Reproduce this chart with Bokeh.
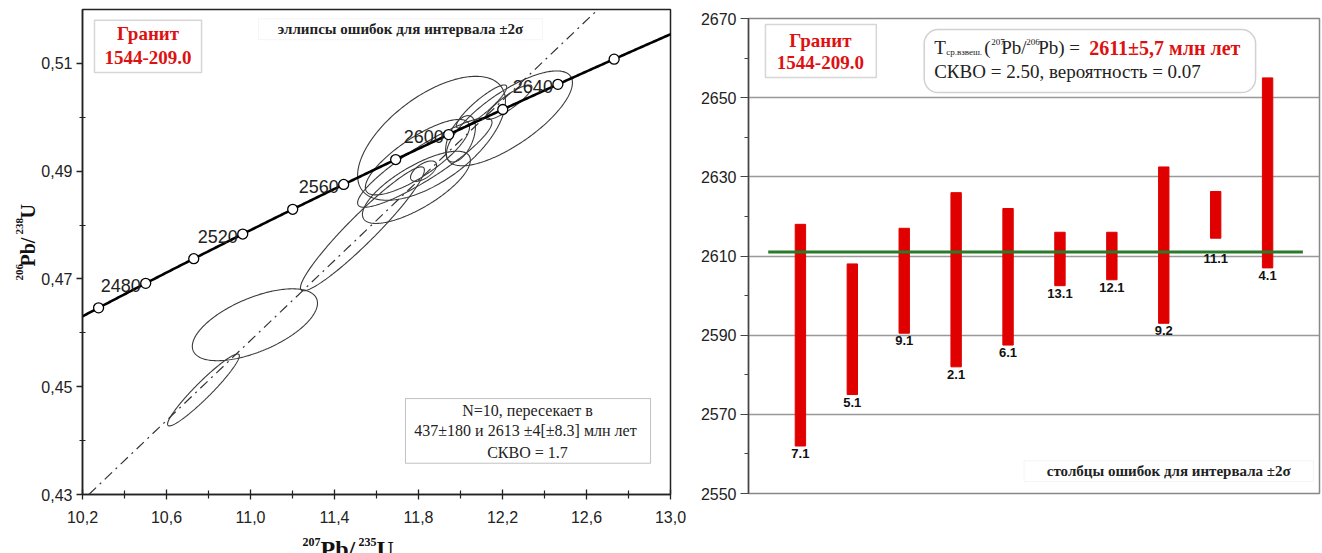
import numpy as np
from bokeh.plotting import figure
from bokeh.layouts import row, column
from bokeh.models import (FixedTicker, CustomJSTickFormatter, Label, BoxAnnotation, Slope)
from bokeh.core.properties import value
from bokeh.embed import file_html
from bokeh.resources import INLINE

# ---------------------------------------------------------------- data
# U decay constants, 1/yr
L238 = 1.55125e-10
L235 = 9.8485e-10

CONCORDIA_AGES = [2460, 2480, 2500, 2520, 2540, 2560, 2580, 2600, 2620, 2640, 2660]
AGE_LABELS = [2480, 2520, 2560, 2600, 2640]
LOWER_INTERCEPT = 437
UPPER_INTERCEPT = 2613

# zircon analyses: 207Pb/235U, 206Pb/238U with 2-sigma errors and error correlation
PB7_U5 = [10.776, 11.021, 11.533, 11.862, 12.233, 12.230, 12.100, 12.000, 11.795, 11.790, 11.824, 11.830]
PB7_U5_ERR = [0.171, 0.298, 0.295, 0.352, 0.300, 0.110, 0.120, 0.071, 0.248, 0.257, 0.062, 0.320]
PB6_U8 = [0.4494, 0.4615, 0.4793, 0.4961, 0.4998, 0.5028, 0.5020, 0.4960, 0.4926, 0.4870, 0.4900, 0.4916]
PB6_U8_ERR = [0.00667, 0.00667, 0.0115, 0.0115, 0.0088, 0.0032, 0.0040, 0.0043, 0.0070, 0.0067, 0.0019, 0.0083]
RHO = [0.95, 0.60, 0.95, 0.60, 0.75, 0.88, 0.90, 0.50, 0.80, 0.75, 0.60, 0.90]

X_TICKS = [10.2, 10.6, 11.0, 11.4, 11.8, 12.2, 12.6, 13.0]
X_MINOR = [10.4, 10.8, 11.2, 11.6, 12.0, 12.4, 12.8]
Y_TICKS = [0.43, 0.45, 0.47, 0.49, 0.51]
Y_MINOR = [0.44, 0.46, 0.48, 0.50]

# 207Pb/206Pb ages per spot, ±2σ interval (Ma)
SPOTS = ["7.1", "5.1", "9.1", "2.1", "6.1", "13.1", "12.1", "9.2", "11.1", "4.1"]
AGE_HIGH = [2618.0, 2608.0, 2617.0, 2626.0, 2622.0, 2616.0, 2616.0, 2632.5, 2626.3, 2655.0]
AGE_LOW = [2562.0, 2575.0, 2590.5, 2582.0, 2587.5, 2602.5, 2604.0, 2593.0, 2614.5, 2607.0]
MEAN_AGE = 2611

AGE_TICKS = [2550, 2570, 2590, 2610, 2630, 2650, 2670]
AGE_MINOR = [2560, 2580, 2600, 2620, 2640, 2660]


def r68(t_ma):
    return np.exp(L238 * np.asarray(t_ma, dtype=float) * 1e6) - 1.0


def r75(t_ma):
    return np.exp(L235 * np.asarray(t_ma, dtype=float) * 1e6) - 1.0


SERIF = "Liberation Serif"
SANS = "Liberation Sans"
RED = "#dd1111"
INK = "#222222"
PAGE_H = 553
YLAB_W = 36


def text_strip(width, height, x_range, y_range):
    """Blank canvas for the axis titles; ranges are given in page pixels
    (x from the left edge, y up from the bottom edge) over the strip's frame."""
    f = figure(width=width, height=height, x_range=x_range, y_range=y_range,
               x_axis_location=None, y_axis_location=None,
               output_backend="svg", toolbar_location=None,
               min_border=0, min_border_left=0, min_border_right=0,
               min_border_top=0, min_border_bottom=0)
    f.grid.visible = False
    f.outline_line_color = None
    f.title.visible = False
    return f


def place_runs(fig, runs, x0, y0, angle=0.0):
    """Text runs: (offset along baseline, offset across baseline, text, size)."""
    c, s = np.cos(angle), np.sin(angle)
    for along, up, txt, size in runs:
        fig.text(x=[x0 + along * c - up * s], y=[y0 + along * s + up * c], text=[txt],
                 angle=angle, text_align="left", text_baseline="alphabetic",
                 text_font=value(SERIF), text_font_style="bold",
                 text_font_size=size, text_color="#111111")


# ---------------------------------------------------------------- concordia diagram
left = figure(width=690 - YLAB_W, height=533, x_range=(10.2, 13.0), y_range=(0.43, 0.52),
              output_backend="svg", toolbar_location=None,
              min_border_left=82 - YLAB_W, min_border_right=20, min_border_top=9,
              min_border_bottom=39)
left.grid.visible = False
left.outline_line_color = INK
left.outline_line_width = 1.5

left.xaxis.ticker = FixedTicker(ticks=X_TICKS, minor_ticks=X_MINOR)
left.yaxis.ticker = FixedTicker(ticks=Y_TICKS, minor_ticks=Y_MINOR)
left.xaxis.formatter = CustomJSTickFormatter(code="return tick.toFixed(1).replace('.', ',')")
left.yaxis.formatter = CustomJSTickFormatter(code="return tick.toFixed(2).replace('.', ',')")
for ax in (left.xaxis[0], left.yaxis[0]):
    ax.axis_line_color = INK
    ax.axis_line_width = 1.5
    ax.major_tick_line_color = INK
    ax.minor_tick_line_color = INK
    ax.major_tick_line_width = 1.3
    ax.minor_tick_line_width = 1.2
    ax.major_label_text_font = SANS
    ax.major_label_text_font_size = "16px"
    ax.major_label_text_color = INK
left.xaxis.major_tick_in = 5
left.xaxis.major_tick_out = 5
left.xaxis.minor_tick_in = 4
left.xaxis.minor_tick_out = 4
left.xaxis.major_label_standoff = 11
left.yaxis.major_tick_in = 0
left.yaxis.major_tick_out = 6
left.yaxis.minor_tick_in = 3
left.yaxis.minor_tick_out = 3
left.yaxis.major_label_standoff = 4

# discordia through both intercepts
x_lo, y_lo = float(r75(LOWER_INTERCEPT)), float(r68(LOWER_INTERCEPT))
x_up, y_up = float(r75(UPPER_INTERCEPT)), float(r68(UPPER_INTERCEPT))
grad = (y_up - y_lo) / (x_up - x_lo)
left.add_layout(Slope(gradient=grad, y_intercept=y_up - grad * x_up,
                      line_color="#333333", line_width=1.2, line_dash="10 5 2 5"))

# error ellipses
theta = np.linspace(0, 2 * np.pi, 241)
ell_x, ell_y = [], []
for x0, ex, y0, ey, r in zip(PB7_U5, PB7_U5_ERR, PB6_U8, PB6_U8_ERR, RHO):
    ell_x.append(x0 + ex * np.cos(theta))
    ell_y.append(y0 + ey * (r * np.cos(theta) + np.sqrt(1 - r * r) * np.sin(theta)))
left.multi_line(ell_x, ell_y, line_color="#3a3a3a", line_width=1.1)

# concordia curve with age markers
t_curve = np.linspace(2440, 2700, 400)
left.line(r75(t_curve), r68(t_curve), line_color="black", line_width=2.6)
left.scatter(r75(CONCORDIA_AGES), r68(CONCORDIA_AGES), size=10, marker="circle",
             fill_color="white", line_color="black", line_width=1.3)
left.text(x=r75(AGE_LABELS), y=r68(AGE_LABELS), text=[str(a) for a in AGE_LABELS],
          text_align="right", text_baseline="alphabetic", x_offset=-5, y_offset=2,
          text_font=value(SANS), text_font_size="18px", text_color=INK)

# annotation boxes
left.add_layout(BoxAnnotation(left=10.257, right=10.767, top=0.5180, bottom=0.5083,
                              fill_color="white", fill_alpha=1.0,
                              line_color="#777777", line_width=1.5))
left.add_layout(Label(x=10.512, y=0.5156, text="Гранит", text_align="center",
                      text_baseline="middle", text_font=SERIF, text_font_style="bold",
                      text_font_size="19px", text_color=RED))
left.add_layout(Label(x=10.512, y=0.5111, text="1544-209.0", text_align="center",
                      text_baseline="middle", text_font=SERIF, text_font_style="bold",
                      text_font_size="19px", text_color=RED))

left.add_layout(BoxAnnotation(left=11.038, right=12.390, top=0.5183, bottom=0.5144,
                              fill_color="white", fill_alpha=1.0,
                              line_color="#dddddd", line_width=1))
left.add_layout(Label(x=11.714, y=0.5164, text="эллипсы ошибок для интервала ±2σ",
                      text_align="center", text_baseline="middle", text_font=SERIF,
                      text_font_style="bold", text_font_size="15px", text_color=INK))

left.add_layout(BoxAnnotation(left=11.738, right=12.905, top=0.4478, bottom=0.4358,
                              fill_color="white", fill_alpha=1.0,
                              line_color="#333333", line_width=1))
for yy, txt in [(0.4456, "N=10, пересекает в"),
                (0.4419, "437±180  и 2613 ±4[±8.3] млн лет"),
                (0.4378, "СКВО = 1.7")]:
    left.add_layout(Label(x=12.319, y=yy, text=txt, text_align="center",
                          text_baseline="middle", text_font=SERIF,
                          text_font_size="16px", text_color=INK))

# axis titles with superscript mass numbers
# (strip frames line up with the neighbouring plot frames in the row / column)
ylab = text_strip(YLAB_W, PAGE_H, x_range=(0, YLAB_W), y_range=(PAGE_H - 493, PAGE_H - 18))
place_runs(ylab, [(0, 8, "206", "11px"), (14, 0, "Pb/", "20px"),
                  (46, 8, "238", "11px"), (62, 0, "U", "20px")],
           x0=27, y0=PAGE_H - 280, angle=np.pi / 2)
xlab = text_strip(690 - YLAB_W, 20, x_range=(82, 670), y_range=(0, 20))
place_runs(xlab, [(0, 7, "207", "12px"), (18, 0, "Pb/", "24px"),
                  (56, 7, "235", "12px"), (74, 0, "U", "24px")],
           x0=302, y0=PAGE_H - 548)

# ---------------------------------------------------------------- weighted mean age plot
right = figure(width=632, height=553, x_range=(0, 11), y_range=(2550, 2670),
               output_backend="svg", toolbar_location=None,
               min_border_left=58, min_border_right=3, min_border_top=18, min_border_bottom=60)
right.xaxis.visible = False
right.xgrid.visible = False
right.outline_line_color = "#888888"
right.outline_line_width = 1.5
right.ygrid.ticker = FixedTicker(ticks=AGE_TICKS)
right.ygrid.grid_line_color = "#999999"
right.ygrid.grid_line_width = 1.5
ya = right.yaxis[0]
ya.ticker = FixedTicker(ticks=AGE_TICKS, minor_ticks=AGE_MINOR)
ya.axis_line_color = "#444444"
ya.axis_line_width = 1.5
ya.major_tick_line_color = "#444444"
ya.minor_tick_line_color = "#444444"
ya.major_tick_in = 0
ya.major_tick_out = 8
ya.minor_tick_in = 0
ya.minor_tick_out = 4
ya.major_label_standoff = 4
ya.major_label_text_font = SANS
ya.major_label_text_font_size = "16px"
ya.major_label_text_color = INK

pos = list(range(1, len(SPOTS) + 1))
right.vbar(x=pos, bottom=AGE_LOW, top=AGE_HIGH, width=0.2,
           fill_color="#e00000", line_color="#e00000")
label_gap = [3 if s != "11.1" else 16 for s in SPOTS]
right.text(x=pos, y=AGE_LOW, text=SPOTS, text_align="center", text_baseline="top",
           y_offset=label_gap, text_font=value(SANS), text_font_style="bold",
           text_font_size="13px", text_color="#111111")
right.line(x=[0.38, 10.68], y=[MEAN_AGE, MEAN_AGE], line_color="#2a7a2a", line_width=3)

right.add_layout(BoxAnnotation(left=0.327, right=2.462, top=2668.5, bottom=2655.1,
                               fill_color="white", fill_alpha=1.0,
                               line_color="#777777", line_width=1.5))
right.add_layout(Label(x=1.385, y=2664.4, text="Гранит", text_align="center",
                       text_baseline="middle", text_font=SERIF, text_font_style="bold",
                       text_font_size="19px", text_color=RED))
right.add_layout(Label(x=1.385, y=2658.9, text="1544-209.0", text_align="center",
                       text_baseline="middle", text_font=SERIF, text_font_style="bold",
                       text_font_size="19px", text_color=RED))

right.add_layout(BoxAnnotation(left=3.385, right=9.769, top=2667.2, bottom=2651.3,
                               fill_color="white", fill_alpha=1.0, border_radius=14,
                               line_color="#666666", line_width=1.5))
PX = 120 / 475  # age units per screen pixel
x0_txt, y1, y2 = 3.577, 2662.6, 2656.6
runs = [
    (0, 0, "T", "19px", "normal", INK),
    (12, 4, "ср.взвеш.", "9px", "normal", INK),
    (50, 0, "(", "19px", "normal", INK),
    (57, -6, "207", "9px", "normal", INK),
    (67, 0, "Pb/", "19px", "normal", INK),
    (92, -6, "206", "9px", "normal", INK),
    (104, 0, "Pb) =", "19px", "normal", INK),
    (155, 0, "2611±5,7 млн лет", "20px", "bold", RED),
]
for dx, dy, txt, fs, st, col in runs:
    right.add_layout(Label(x=x0_txt, y=y1 - dy * PX, x_offset=dx, text=txt,
                           text_align="left", text_baseline="middle", text_font=SERIF,
                           text_font_size=fs, text_font_style=st, text_color=col))
right.add_layout(Label(x=x0_txt, y=y2, text="СКВО = 2.50, вероятность = 0.07",
                       text_align="left", text_baseline="middle", text_font=SERIF,
                       text_font_size="19px", text_color=INK))

right.add_layout(BoxAnnotation(left=5.308, right=10.885, top=2558.3, bottom=2553.0,
                               fill_color="white", fill_alpha=1.0,
                               line_color="#dddddd", line_width=1))
right.add_layout(Label(x=8.096, y=2555.7, text="столбцы ошибок для интервала ±2σ",
                       text_align="center", text_baseline="middle", text_font=SERIF,
                       text_font_style="bold", text_font_size="15px", text_color=INK))

layout = row(ylab, column(left, xlab), right)
open("out.html", "w").write(file_html(layout, INLINE))
